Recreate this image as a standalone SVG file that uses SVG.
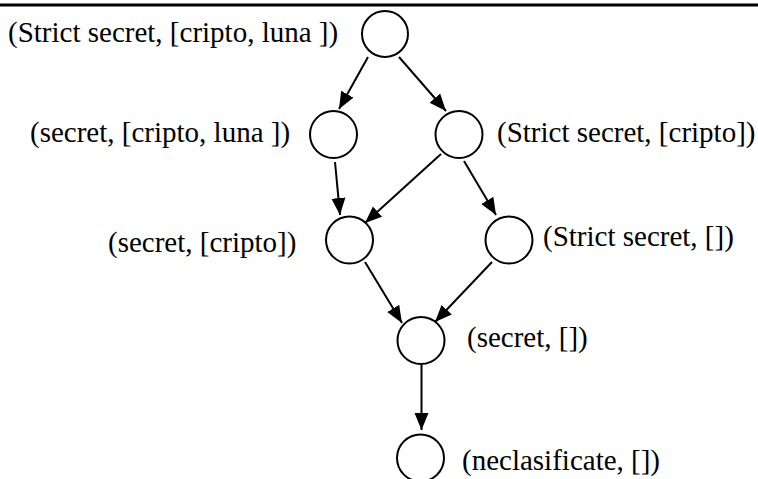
<svg xmlns="http://www.w3.org/2000/svg" width="758" height="479" viewBox="0 0 758 479">
  <style>
    .node circle { fill: #ffffff; stroke: #000000; stroke-width: 2; }
    .node text { font-family: "Liberation Serif", "Times New Roman", serif; font-size: 29px; fill: #000000; }
    .edges line { stroke: #000000; stroke-width: 2; marker-end: url(#arrow); }
  </style>
  <defs>
    <marker id="arrow" markerUnits="userSpaceOnUse" markerWidth="18" markerHeight="16" refX="17" refY="7.5" orient="auto">
      <path d="M0,0.5 L17,7.5 L0,14.5 Z" fill="#000000"/>
    </marker>
  </defs>
  <rect width="758" height="479" fill="#ffffff"/>
  <!-- header rule -->
  <line x1="0" y1="5" x2="758" y2="5" stroke="#000000" stroke-width="3"/>

  <g class="edges">
    <line x1="368" y1="57" x2="339" y2="109"/>
    <line x1="399" y1="57" x2="446" y2="111"/>
    <line x1="335" y1="162" x2="340" y2="215"/>
    <line x1="441" y1="154" x2="365" y2="223"/>
    <line x1="464" y1="161" x2="496" y2="215"/>
    <line x1="365" y1="262" x2="402" y2="323"/>
    <line x1="492" y1="262" x2="435" y2="322"/>
    <line x1="421.5" y1="365" x2="421.5" y2="430"/>
  </g>

  <g id="n1" class="node">
    <circle cx="385" cy="34" r="23"/>
    <text x="8" y="42">(Strict secret, [cripto, luna ])</text>
  </g>
  <g id="n2" class="node">
    <circle cx="333.5" cy="134.5" r="23.5"/>
    <text x="30" y="142">(secret, [cripto, luna ])</text>
  </g>
  <g id="n3" class="node">
    <circle cx="459" cy="134.5" r="23.5"/>
    <text x="497" y="142">(Strict secret, [cripto])</text>
  </g>
  <g id="n4" class="node">
    <circle cx="349.5" cy="240" r="23.5"/>
    <text x="108" y="252">(secret, [cripto])</text>
  </g>
  <g id="n5" class="node">
    <circle cx="509" cy="240" r="23.5"/>
    <text x="543" y="246">(Strict secret, [])</text>
  </g>
  <g id="n6" class="node">
    <circle cx="421" cy="340.5" r="23.5"/>
    <text x="467" y="347">(secret, [])</text>
  </g>
  <g id="n7" class="node">
    <circle cx="420.5" cy="458" r="23.5"/>
    <text x="462" y="470">(neclasificate, [])</text>
  </g>
</svg>
